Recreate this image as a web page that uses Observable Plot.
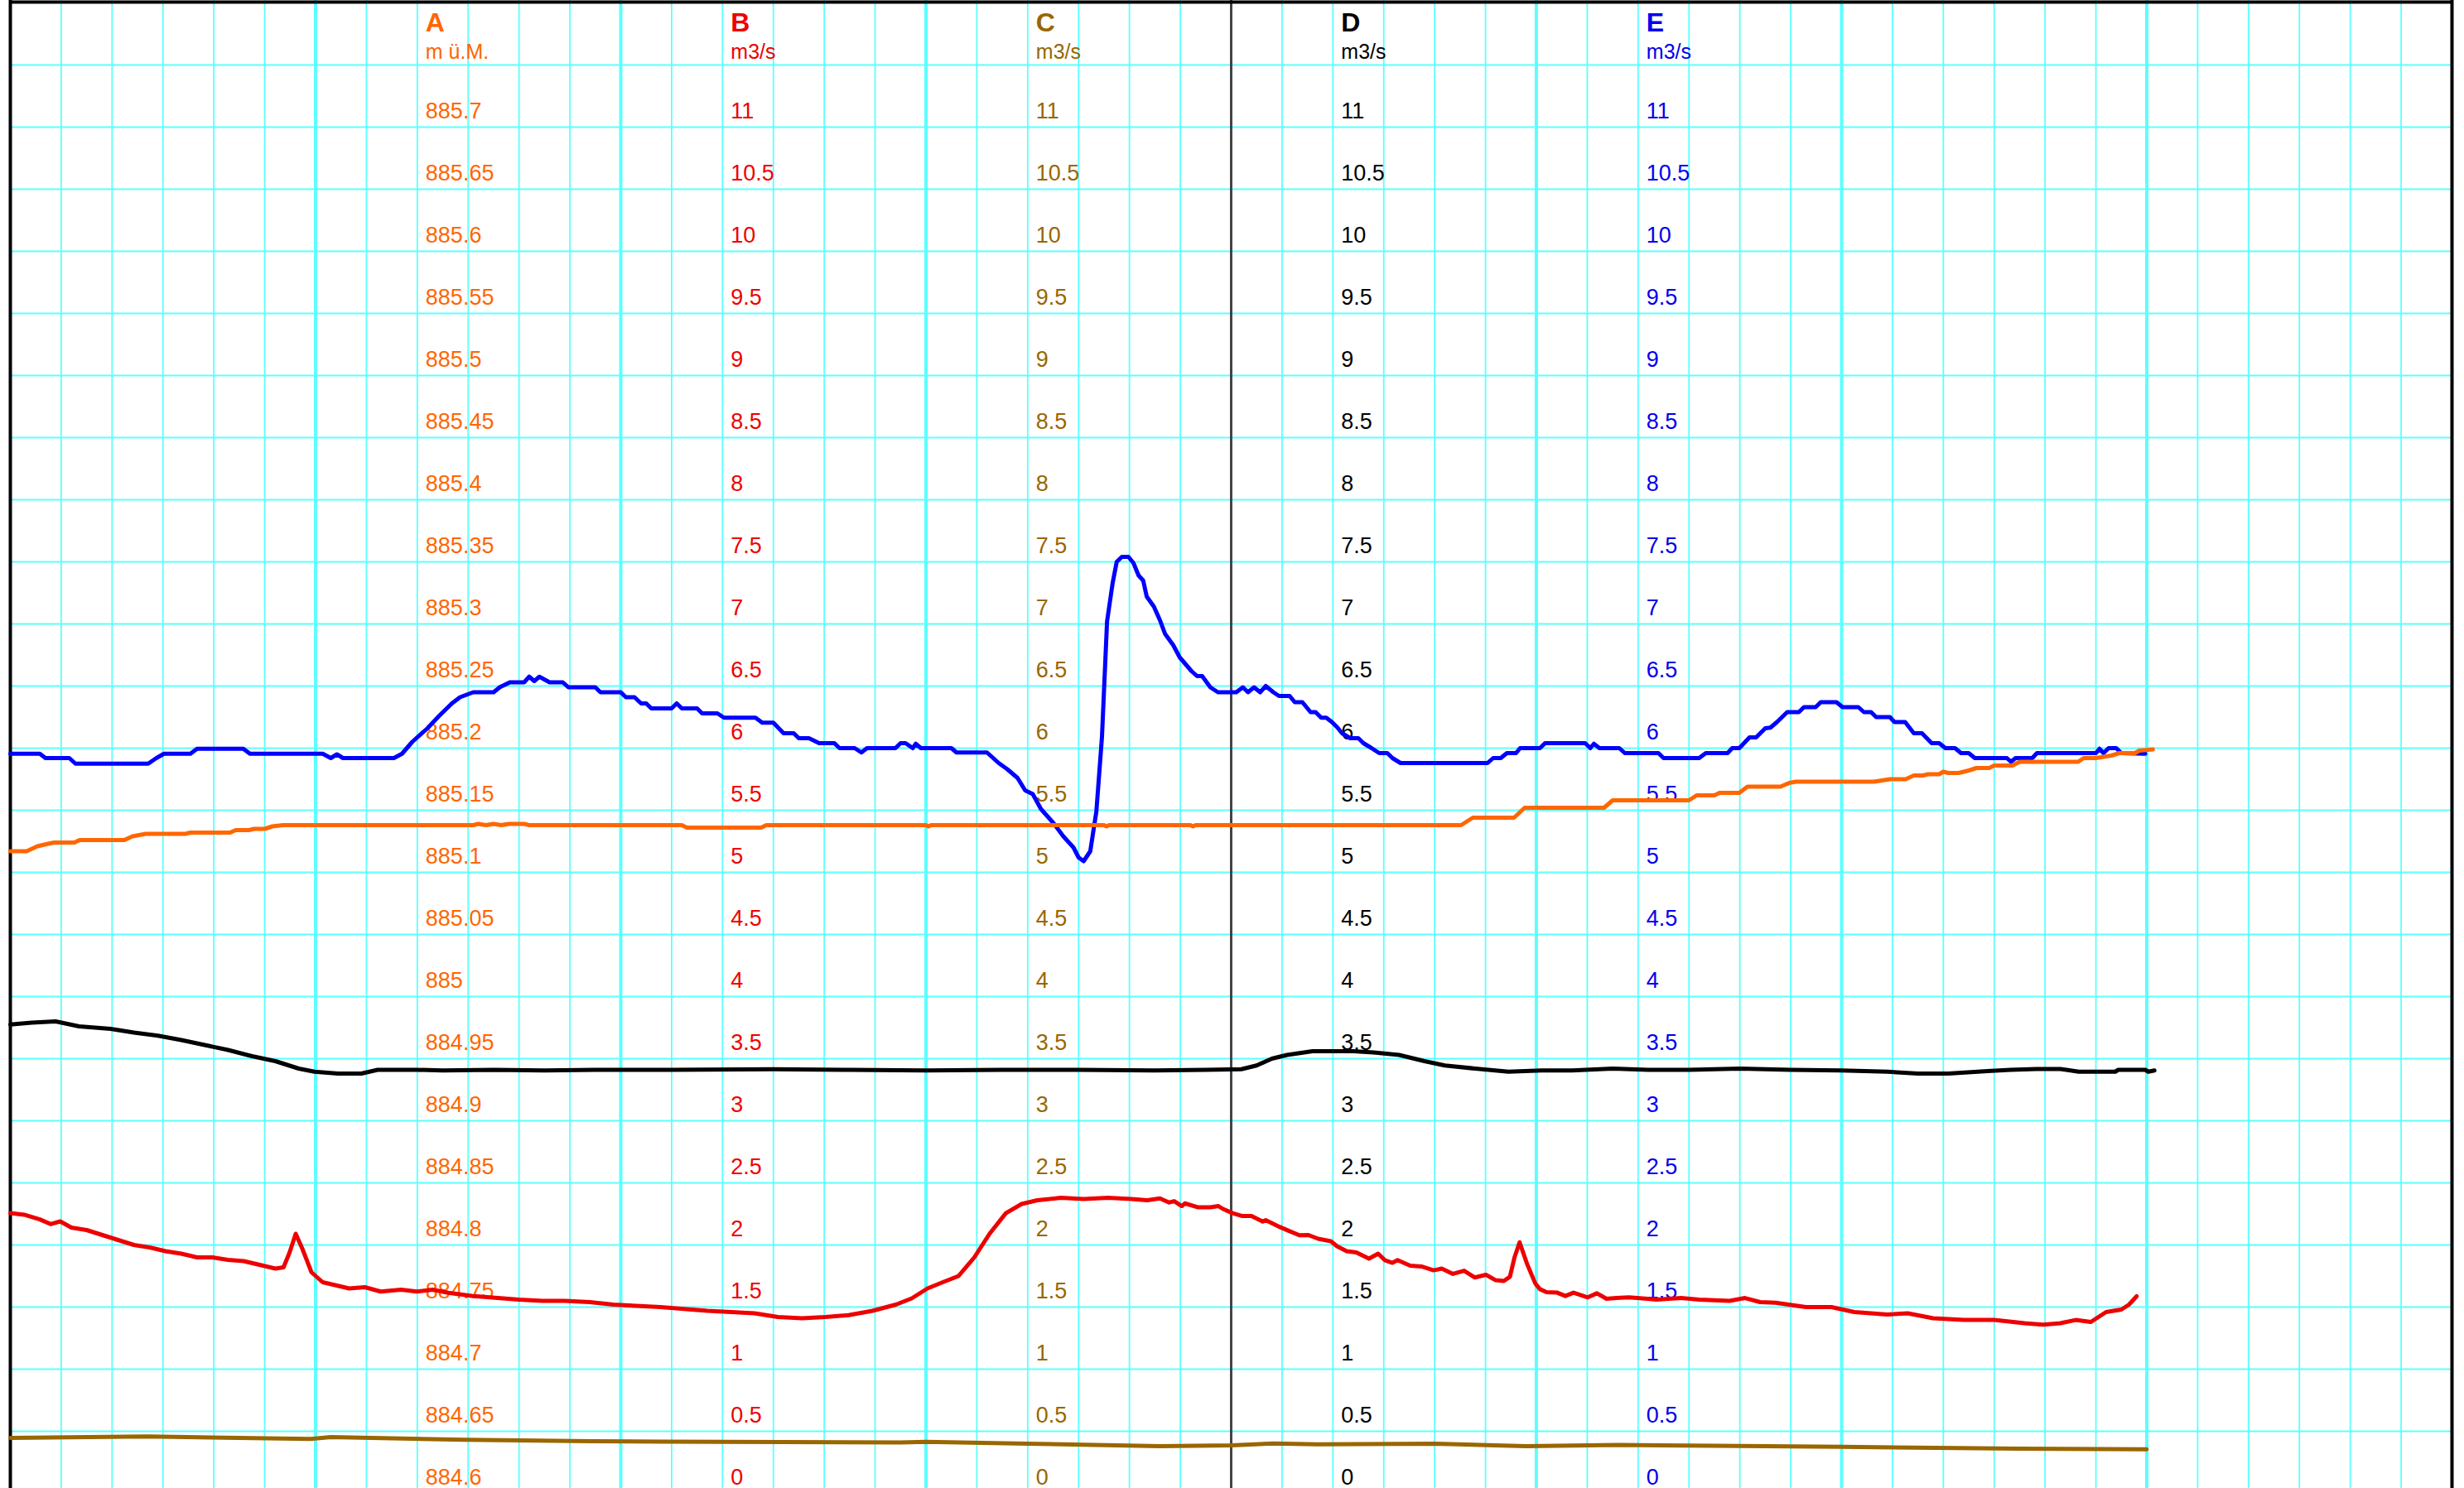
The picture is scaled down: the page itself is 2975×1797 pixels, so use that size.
<!DOCTYPE html>
<html>
<head>
<meta charset="utf-8">
<script src="https://cdn.jsdelivr.net/npm/d3@7"></script>
<script src="https://cdn.jsdelivr.net/npm/@observablehq/plot@0.6"></script>
<style>
  html, body { margin: 0; padding: 0; background: #fff; overflow: hidden; }
  #chart svg { display: block; }
</style>
</head>
<body>
<div id="chart"></div>
<script>
// ---- axis definitions ----
const axisNames = ["A", "B", "C", "D", "E"];
const axisUnits = ["m ü.M.", "m3/s", "m3/s", "m3/s", "m3/s"];
const axisColors = ["#ff6600", "#ee0000", "#996600", "#000000", "#0000ee"];
const lineColors = ["#ff6600", "#ee0000", "#996600", "#000000", "#0000ff"];
const axisHours = [8, 14, 20, 26, 32];
const levelTicks = ["884.6","884.65","884.7","884.75","884.8","884.85","884.9","884.95","885","885.05","885.1","885.15","885.2","885.25","885.3","885.35","885.4","885.45","885.5","885.55","885.6","885.65","885.7"];
const flowTicks = ["0","0.5","1","1.5","2","2.5","3","3.5","4","4.5","5","5.5","6","6.5","7","7.5","8","8.5","9","9.5","10","10.5","11"];
const levelBase = 884.6;   // level shown at flow 0
const levelPerFlow = 0.1;  // 0.05 m per 0.5 m3/s

// ---- series (hour, value) ----
const seriesA = [[0,885.117],[0.32,885.117],[0.53,885.121],[0.74,885.123],[0.86,885.124],[1.26,885.124],[1.36,885.126],[2.24,885.126],[2.4,885.129],[2.66,885.131],[3.44,885.131],[3.54,885.132],[4.32,885.132],[4.43,885.134],[4.69,885.134],[4.79,885.135],[5.0,885.135],[5.15,885.137],[5.36,885.138],[9.1,885.138],[9.2,885.139],[9.35,885.138],[9.5,885.139],[9.65,885.138],[9.8,885.139],[10.1,885.139],[10.2,885.138],[13.2,885.138],[13.3,885.136],[14.76,885.136],[14.86,885.138],[18.0,885.138],[18.05,885.137],[18.1,885.138],[21.5,885.138],[21.55,885.137],[21.6,885.138],[23.2,885.138],[23.25,885.137],[23.3,885.138],[28.52,885.138],[28.75,885.144],[29.56,885.144],[29.77,885.152],[31.33,885.152],[31.5,885.158],[33.0,885.158],[33.15,885.162],[33.5,885.162],[33.6,885.164],[33.99,885.164],[34.15,885.169],[34.8,885.169],[34.97,885.172],[35.1,885.173],[36.64,885.173],[36.95,885.175],[37.26,885.175],[37.42,885.178],[37.6,885.178],[37.7,885.179],[37.92,885.179],[38.0,885.181],[38.1,885.180],[38.3,885.180],[38.5,885.182],[38.65,885.184],[38.9,885.184],[39.0,885.186],[39.36,885.186],[39.5,885.189],[40.65,885.189],[40.76,885.192],[41.0,885.192],[41.3,885.194],[41.46,885.196],[41.77,885.196],[41.85,885.198],[42.12,885.199]];

const seriesB = [[0,2.256],[0.27,2.244],[0.58,2.206],[0.79,2.168],[0.98,2.19],[1.2,2.14],[1.5,2.12],[1.81,2.08],[2.12,2.04],[2.43,2.0],[2.74,1.98],[3.05,1.95],[3.36,1.93],[3.67,1.90],[3.97,1.90],[4.28,1.88],[4.59,1.87],[4.9,1.84],[5.21,1.81],[5.37,1.82],[5.49,1.94],[5.61,2.09],[5.74,1.97],[5.92,1.78],[6.14,1.70],[6.35,1.68],[6.66,1.65],[6.97,1.66],[7.28,1.625],[7.68,1.64],[7.99,1.625],[8.3,1.64],[8.61,1.615],[9.07,1.59],[9.53,1.575],[10.0,1.56],[10.46,1.55],[10.9,1.55],[11.39,1.54],[11.85,1.52],[12.3,1.51],[12.78,1.50],[13.24,1.485],[13.7,1.47],[14.17,1.46],[14.63,1.45],[15.09,1.42],[15.56,1.41],[16.02,1.42],[16.48,1.435],[16.95,1.47],[17.41,1.52],[17.72,1.57],[18.03,1.65],[18.33,1.70],[18.64,1.75],[18.95,1.90],[19.25,2.09],[19.57,2.256],[19.88,2.33],[20.19,2.36],[20.65,2.38],[21.1,2.37],[21.58,2.38],[22.04,2.37],[22.35,2.36],[22.6,2.375],[22.78,2.342],[22.88,2.353],[23.03,2.313],[23.09,2.335],[23.34,2.304],[23.59,2.304],[23.75,2.313],[23.84,2.29],[24.03,2.256],[24.22,2.233],[24.4,2.233],[24.62,2.189],[24.68,2.20],[24.96,2.144],[25.12,2.116],[25.34,2.078],[25.52,2.08],[25.71,2.05],[25.96,2.03],[26.08,1.99],[26.27,1.95],[26.46,1.94],[26.71,1.89],[26.89,1.93],[27.02,1.878],[27.17,1.856],[27.27,1.878],[27.52,1.833],[27.74,1.827],[27.98,1.796],[28.14,1.81],[28.36,1.767],[28.58,1.793],[28.79,1.738],[29.01,1.76],[29.2,1.716],[29.36,1.71],[29.48,1.744],[29.57,1.9],[29.67,2.022],[29.82,1.844],[29.98,1.689],[30.07,1.644],[30.2,1.62],[30.41,1.616],[30.57,1.589],[30.73,1.616],[31.01,1.578],[31.19,1.611],[31.38,1.567],[31.57,1.573],[31.82,1.578],[32.19,1.567],[32.36,1.56],[32.85,1.573],[33.2,1.56],[33.8,1.55],[34.1,1.573],[34.4,1.54],[34.7,1.535],[35.3,1.50],[35.8,1.50],[36.25,1.46],[36.9,1.44],[37.3,1.45],[37.8,1.41],[38.4,1.396],[39.0,1.396],[39.6,1.37],[39.96,1.358],[40.3,1.37],[40.6,1.396],[40.9,1.38],[41.2,1.46],[41.5,1.48],[41.65,1.52],[41.8,1.587]];

const seriesC = [[0,0.447],[2.7,0.458],[5.9,0.438],[6.3,0.453],[8.94,0.431],[11.43,0.42],[12.8,0.416],[17.5,0.41],[18,0.415],[20,0.40],[22.6,0.38],[24,0.387],[24.84,0.402],[25.7,0.395],[28,0.40],[29.8,0.38],[31.6,0.39],[33,0.385],[36,0.375],[39.5,0.36],[42,0.355]];

const seriesD = [[0,3.775],[0.42,3.79],[0.89,3.80],[1.35,3.76],[1.97,3.74],[2.43,3.71],[2.9,3.685],[3.36,3.65],[3.82,3.61],[4.28,3.57],[4.75,3.52],[5.21,3.48],[5.67,3.42],[5.98,3.395],[6.44,3.38],[6.9,3.38],[7.22,3.41],[8.0,3.41],[8.5,3.405],[9.5,3.41],[10.5,3.405],[11.5,3.41],[13,3.41],[15,3.415],[16.5,3.41],[18,3.405],[19.5,3.41],[21,3.41],[22.5,3.405],[23.5,3.41],[24.2,3.415],[24.5,3.445],[24.8,3.50],[25.1,3.53],[25.6,3.56],[26.4,3.56],[26.8,3.55],[27.3,3.53],[27.8,3.48],[28.2,3.445],[28.8,3.42],[29.45,3.395],[30.1,3.405],[30.7,3.405],[31.5,3.42],[32.2,3.41],[33,3.41],[34,3.42],[35,3.41],[36,3.405],[36.9,3.395],[37.5,3.38],[38.1,3.38],[38.87,3.40],[39.32,3.41],[39.83,3.417],[40.3,3.417],[40.42,3.41],[40.66,3.395],[41.38,3.395],[41.44,3.41],[41.97,3.41],[42.03,3.395],[42.15,3.405]];

const seriesE = [[0,5.955],[0.58,5.955],[0.69,5.92],[1.16,5.92],[1.28,5.875],[2.71,5.875],[2.87,5.92],[3.02,5.955],[3.54,5.955],[3.67,5.995],[4.58,5.995],[4.71,5.955],[6.14,5.955],[6.3,5.92],[6.42,5.95],[6.54,5.92],[7.54,5.92],[7.7,5.955],[7.9,6.05],[8.2,6.16],[8.43,6.26],[8.68,6.36],[8.84,6.41],[9.1,6.45],[9.5,6.45],[9.62,6.49],[9.82,6.53],[10.1,6.53],[10.2,6.575],[10.3,6.54],[10.4,6.575],[10.6,6.53],[10.86,6.53],[10.97,6.49],[11.5,6.49],[11.6,6.45],[12.0,6.45],[12.1,6.41],[12.27,6.41],[12.4,6.36],[12.5,6.36],[12.6,6.32],[13.0,6.32],[13.1,6.36],[13.2,6.32],[13.5,6.32],[13.6,6.28],[13.9,6.28],[14.03,6.245],[14.65,6.245],[14.78,6.205],[15.0,6.205],[15.2,6.12],[15.4,6.12],[15.5,6.08],[15.7,6.08],[15.9,6.04],[16.2,6.04],[16.3,6.0],[16.6,6.0],[16.73,5.965],[16.84,6.0],[17.4,6.0],[17.5,6.04],[17.6,6.04],[17.74,6.0],[17.8,6.035],[17.9,6.0],[18.5,6.0],[18.6,5.965],[19.2,5.965],[19.43,5.88],[19.6,5.83],[19.8,5.76],[19.95,5.66],[20.1,5.63],[20.26,5.51],[20.5,5.40],[20.7,5.29],[20.9,5.20],[21.0,5.12],[21.1,5.09],[21.23,5.17],[21.35,5.49],[21.46,6.09],[21.56,7.02],[21.67,7.33],[21.75,7.50],[21.85,7.54],[21.98,7.54],[22.08,7.49],[22.18,7.39],[22.27,7.35],[22.34,7.22],[22.48,7.14],[22.6,7.03],[22.7,6.92],[22.86,6.83],[22.99,6.73],[23.22,6.62],[23.33,6.58],[23.43,6.58],[23.59,6.49],[23.74,6.45],[24.1,6.45],[24.23,6.49],[24.33,6.45],[24.45,6.49],[24.57,6.45],[24.68,6.50],[24.83,6.45],[24.94,6.42],[25.15,6.42],[25.25,6.37],[25.4,6.37],[25.56,6.29],[25.66,6.29],[25.77,6.245],[25.87,6.245],[25.98,6.21],[26.08,6.17],[26.18,6.12],[26.34,6.08],[26.5,6.08],[26.6,6.04],[26.76,6.0],[26.91,5.96],[27.07,5.96],[27.17,5.92],[27.33,5.88],[29.04,5.88],[29.15,5.92],[29.3,5.92],[29.42,5.96],[29.6,5.96],[29.68,6.0],[30.07,6.0],[30.17,6.04],[30.96,6.04],[31.06,6.0],[31.13,6.035],[31.24,6.0],[31.63,6.0],[31.74,5.96],[32.4,5.96],[32.5,5.92],[33.2,5.92],[33.33,5.96],[33.76,5.96],[33.85,6.0],[33.99,6.0],[34.19,6.087],[34.32,6.087],[34.5,6.16],[34.6,6.165],[34.73,6.21],[34.93,6.29],[35.16,6.29],[35.26,6.33],[35.49,6.33],[35.59,6.37],[35.9,6.37],[36.02,6.33],[36.33,6.33],[36.44,6.29],[36.58,6.29],[36.68,6.25],[36.95,6.25],[37.04,6.21],[37.25,6.21],[37.42,6.12],[37.58,6.12],[37.77,6.04],[37.92,6.04],[38.04,6.0],[38.23,6.0],[38.35,5.96],[38.5,5.96],[38.62,5.92],[39.25,5.92],[39.33,5.89],[39.42,5.92],[39.75,5.92],[39.84,5.96],[41.0,5.96],[41.07,5.995],[41.15,5.96],[41.25,6.0],[41.4,6.0],[41.5,5.96],[41.97,5.955]];

// ---- grid definitions ----
const hourMax = 48;
const flowMax = 12;
const gridHours = d3.range(1, hourMax);
const majorEvery = 6;
const midnightHour = 24;
const gridFlows = d3.range(0, flowMax, 0.5);

// ---- build tables ----
const levelToFlow = (a) => (a - levelBase) / levelPerFlow;
const lineA = seriesA.map(([h, a]) => ({h, v: levelToFlow(a)}));
const toRows = (s) => s.map(([h, v]) => ({h, v}));

const tickRows = [];
axisNames.forEach((name, i) => {
  const labels = i === 0 ? levelTicks : flowTicks;
  labels.forEach((t, k) => tickRows.push({h: axisHours[i], v: k * 0.5, text: t, color: axisColors[i]}));
});
const headRows = axisNames.map((name, i) => ({h: axisHours[i], v: 11.5, name, unit: axisUnits[i], color: axisColors[i]}));

const FONT = "'Liberation Sans', Arial, Helvetica, sans-serif";
const GRID = "#5cffff";
const LW = 5;

const chart = Plot.plot({
  width: 2975,
  height: 1797,
  margin: 0,
  x: {domain: [0, hourMax], range: [12, 2960], axis: null},
  y: {domain: [0, flowMax], range: [1803, 3], axis: null},
  style: {fontFamily: FONT, background: "#fff"},
  marks: [
    // grid
    Plot.ruleY(gridFlows, {x1: 0, x2: hourMax, stroke: GRID, strokeWidth: 2.2}),
    Plot.ruleX(gridHours.filter(h => h % majorEvery !== 0), {stroke: GRID, strokeWidth: 1.8}),
    Plot.ruleX(gridHours.filter(h => h % majorEvery === 0 && h !== midnightHour), {stroke: GRID, strokeWidth: 4}),
    Plot.ruleX([midnightHour], {stroke: "#444", strokeWidth: 3}),
    // tick labels and headers
    Plot.text(tickRows, {x: "h", y: "v", text: "text", fill: "color", textAnchor: "start", lineAnchor: "bottom", dx: 10, dy: -11, fontSize: 27}),
    Plot.text(headRows, {x: "h", y: "v", text: "unit", fill: "color", textAnchor: "start", lineAnchor: "bottom", dx: 10, dy: -8, fontSize: 25}),
    Plot.text(headRows, {x: "h", y: "v", text: "name", fill: "color", textAnchor: "start", lineAnchor: "bottom", dx: 10, dy: -41, fontSize: 32, fontWeight: "bold"}),
    // frame
    Plot.ruleX([0, hourMax], {stroke: "#000", strokeWidth: 4}),
    Plot.ruleY([flowMax], {x1: 0, x2: hourMax, stroke: "#000", strokeWidth: 4, dy: -1}),
    // series
    Plot.line(toRows(seriesC), {x: "h", y: "v", stroke: lineColors[2], strokeWidth: LW}),
    Plot.line(toRows(seriesB), {x: "h", y: "v", stroke: lineColors[1], strokeWidth: LW}),
    Plot.line(toRows(seriesD), {x: "h", y: "v", stroke: lineColors[3], strokeWidth: LW}),
    Plot.line(toRows(seriesE), {x: "h", y: "v", stroke: lineColors[4], strokeWidth: LW}),
    Plot.line(lineA, {x: "h", y: "v", stroke: lineColors[0], strokeWidth: LW})
  ]
});
document.getElementById("chart").appendChild(chart);
</script>
</body>
</html>
